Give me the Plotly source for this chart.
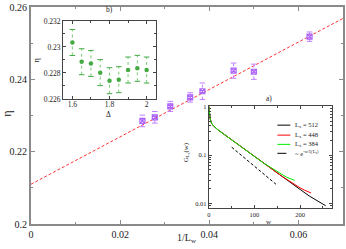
import plotly.graph_objects as go

# ---------------- data ----------------
# main panel: eta vs 1/L_w
inv_L = [1/40, 1/36, 1/32, 1/28, 1/26, 1/22, 1/20, 1/16]
eta = [0.2285, 0.2295, 0.2325, 0.2350, 0.2367, 0.2424, 0.2421, 0.2518]
eta_err = [0.0016, 0.0016, 0.0014, 0.0013, 0.0023, 0.0021, 0.0021, 0.0013]
fit_intercept = 0.2110
fit_slope = 0.655
fit_x = [0.0, 0.07]

# inset b: eta vs Delta
delta = [1.6, 1.65, 1.7, 1.75, 1.8, 1.85, 1.9, 1.95, 2.0]
eta_b = [0.23034, 0.22886, 0.22873, 0.22802, 0.22740, 0.22748, 0.22822, 0.22835, 0.22822]
eta_b_err = [0.0010, 0.0010, 0.0010, 0.0010, 0.0010, 0.0010, 0.0010, 0.0010, 0.0010]

# inset a: G_L(w)
w_512 = [0, 1, 3, 6, 10, 20, 40, 60, 80, 100, 120, 140, 160, 180, 200, 220, 240, 250, 256]
G_512 = [1.0, 0.75, 0.55, 0.45, 0.40, 0.33, 0.24, 0.175, 0.128, 0.093, 0.068, 0.049, 0.036,
         0.0265, 0.0195, 0.0143, 0.0108, 0.0096, 0.0090]
w_448 = [0, 1, 3, 6, 10, 20, 40, 60, 80, 100, 120, 140, 160, 170, 180, 190, 200, 210, 220, 224]
G_448 = [1.0, 0.75, 0.55, 0.45, 0.40, 0.33, 0.24, 0.175, 0.128, 0.093, 0.068, 0.049, 0.0365,
         0.0318, 0.0275, 0.0237, 0.021, 0.0188, 0.0170, 0.0165]
w_384 = [0, 1, 3, 6, 10, 20, 40, 60, 80, 100, 120, 130, 140, 150, 160, 170, 180, 188]
G_384 = [1.0, 0.75, 0.55, 0.45, 0.40, 0.33, 0.24, 0.175, 0.128, 0.093, 0.068, 0.060, 0.053,
         0.046, 0.040, 0.035, 0.032, 0.030]
w_exp = [50, 147]
G_exp = [0.145, 0.025]

legend_labels = ["L<sub>x</sub> = 512", "L<sub>x</sub> = 448", "L<sub>x</sub> = 384",
                 "~ e<sup>-w/ξ(L<sub>x</sub>)</sup>"]

# ---------------- layout helpers ----------------
W, H = 346, 249
L, R, T, B = 31, 1, 6, 25
PW, PH = W - L - R, H - T - B


def px(x):
    return (x - L) / PW


def py(y):
    return (H - B - y) / PH


FONT = "Liberation Serif"


def err_segments(xs, ys, es):
    X, Y = [], []
    for x, y, e in zip(xs, ys, es):
        X += [x, x, None]
        Y += [y - e, y + e, None]
    return X, Y


def caps(xs, ys, es):
    X, Y = [], []
    for x, y, e in zip(xs, ys, es):
        X += [x, x]
        Y += [y - e, y + e]
    return X, Y


fig = go.Figure()

# ---- main panel ----
fx = fit_x
fy = [fit_intercept + fit_slope * v for v in fit_x]
fig.add_trace(go.Scatter(x=fx, y=fy, mode="lines",
                         line=dict(color="#ff3333", width=1, dash="3px,2px"),
                         xaxis="x", yaxis="y", showlegend=False))
ex, ey = err_segments(inv_L, eta, eta_err)
fig.add_trace(go.Scatter(x=ex, y=ey, mode="lines",
                         line=dict(color="#c080ff", width=1, dash="dot"),
                         xaxis="x", yaxis="y", showlegend=False))
cx, cy = caps(inv_L, eta, eta_err)
fig.add_trace(go.Scatter(x=cx, y=cy, mode="markers",
                         marker=dict(symbol="line-ew", size=4,
                                     line=dict(color="#c080ff", width=1)),
                         xaxis="x", yaxis="y", showlegend=False))
fig.add_trace(go.Scatter(x=inv_L, y=eta, mode="markers",
                         marker=dict(symbol="square-x-open", size=5,
                                     line=dict(color="#8a1fe0", width=1.2)),
                         xaxis="x", yaxis="y", showlegend=False))

# ---- inset b ----
bx, by = err_segments(delta, eta_b, eta_b_err)
fig.add_trace(go.Scatter(x=bx, y=by, mode="lines",
                         line=dict(color="#77cc77", width=1, dash="dot"),
                         xaxis="x2", yaxis="y2", showlegend=False))
bcx, bcy = caps(delta, eta_b, eta_b_err)
fig.add_trace(go.Scatter(x=bcx, y=bcy, mode="markers",
                         marker=dict(symbol="line-ew", size=4,
                                     line=dict(color="#44aa44", width=1)),
                         xaxis="x2", yaxis="y2", showlegend=False))
fig.add_trace(go.Scatter(x=delta, y=eta_b, mode="markers",
                         marker=dict(symbol="circle", size=4.5, color="#44aa44"),
                         xaxis="x2", yaxis="y2", showlegend=False))

# ---- inset a ----
fig.add_trace(go.Scatter(x=w_512, y=G_512, mode="lines",
                         line=dict(color="#000000", width=1),
                         xaxis="x3", yaxis="y3", showlegend=False))
fig.add_trace(go.Scatter(x=w_448, y=G_448, mode="lines",
                         line=dict(color="#ff0000", width=1),
                         xaxis="x3", yaxis="y3", showlegend=False))
fig.add_trace(go.Scatter(x=w_384, y=G_384, mode="lines",
                         line=dict(color="#00ee00", width=1),
                         xaxis="x3", yaxis="y3", showlegend=False))
fig.add_trace(go.Scatter(x=w_exp, y=G_exp, mode="lines",
                         line=dict(color="#000000", width=1, dash="3px,2px"),
                         xaxis="x3", yaxis="y3", showlegend=False))

main_ax = dict(showline=True, linecolor="#8a8a8a", linewidth=2, mirror="ticks",
               ticks="inside", ticklen=4, tickcolor="#8a8a8a", tickwidth=1,
               showgrid=False, zeroline=False,
               tickfont=dict(family=FONT, size=10, color="#222"))
inset_ax = dict(showline=True, linecolor="#444", linewidth=1, mirror="ticks",
                ticks="inside", ticklen=3, tickcolor="#444", tickwidth=1,
                showgrid=False, zeroline=False)

fig.update_layout(
    width=W, height=H,
    margin=dict(l=L, r=R, t=T, b=B),
    paper_bgcolor="white", plot_bgcolor="white",
    hovermode=False,
    xaxis=dict(**main_ax, range=[0, 0.07], dtick=0.02, tick0=0,
               minor=dict(ticks="inside", dtick=0.01, ticklen=2, tickcolor="#8a8a8a")),
    yaxis=dict(**main_ax, range=[0.2, 0.26], dtick=0.02, tick0=0.2,
               minor=dict(ticks="inside", dtick=0.01, ticklen=2, tickcolor="#8a8a8a")),
    xaxis2=dict(**inset_ax, domain=[px(63.3), px(156.7)], anchor="y2",
                range=[1.55, 2.05], dtick=0.2, tick0=1.6, ticklabelstandoff=-2,
                minor=dict(ticks="inside", dtick=0.1, ticklen=2, tickcolor="#444"),
                tickfont=dict(family=FONT, size=7.5, color="#222")),
    yaxis2=dict(**inset_ax, domain=[py(98.3), py(20)], anchor="x2",
                range=[0.226, 0.232],
                tickvals=[0.226, 0.228, 0.23, 0.232],
                ticktext=["0.226", "0.228", "0.23", "0.232"],
                minor=dict(ticks="inside", dtick=0.001, ticklen=2, tickcolor="#444"),
                tickfont=dict(family=FONT, size=7.5, color="#222")),
    xaxis3=dict(**inset_ax, domain=[px(210), px(334)], anchor="y3",
                range=[0, 270], dtick=100, tick0=0,
                minor=dict(ticks="inside", dtick=50, ticklen=2, tickcolor="#444"),
                tickfont=dict(family=FONT, size=6.5, color="#222")),
    yaxis3=dict(**inset_ax, domain=[py(208.3), py(105.5)], anchor="x3",
                type="log", range=[-2.1, 0.01],
                tickvals=[0.01, 0.1, 1], ticktext=["0.01", "0.1", "1"],
                minor=dict(ticks="inside", ticklen=2, tickcolor="#444", dtick="D1"),
                tickfont=dict(family=FONT, size=6.5, color="#222")),
)

ann = []


def text(x, y, s, size, angle=0):
    ann.append(dict(x=px(x), y=py(y), xref="paper", yref="paper", text=s,
                    showarrow=False, textangle=angle,
                    font=dict(family=FONT, size=size, color="#222"),
                    xanchor="center", yanchor="middle"))


text(6, 113, "η", 12, -90)
text(188, 239, "1/L<sub>w</sub>", 10)
text(36, 59, "η", 9, -90)
text(109, 114, "Δ", 7.5)
text(110, 9, "b)", 7.5)
text(271, 98, "a)", 7.5)
text(271, 222, "w", 7)
text(187, 152, "G<sub>L<sub>x</sub></sub>(w)", 7, -90)

# manual legend for inset a
leg_rows = [124.7, 134.7, 144, 153]
leg_styles = [("#000000", "solid"), ("#ff0000", "solid"), ("#00ee00", "solid"),
              ("#000000", "dash")]
shapes = []
for yy, (col, dsh), lab in zip(leg_rows, leg_styles, legend_labels):
    shapes.append(dict(type="line", xref="paper", yref="paper",
                       x0=px(279), x1=px(292), y0=py(yy), y1=py(yy),
                       line=dict(color=col, width=1, dash=dsh)))
    ann.append(dict(x=px(295), y=py(yy), xref="paper", yref="paper", text=lab,
                    showarrow=False, xanchor="left", yanchor="middle",
                    font=dict(family=FONT, size=6.5, color="#222")))

fig.update_layout(annotations=ann, shapes=shapes)

fig.write_html("out.html",
               config={"displayModeBar": False, "staticPlot": True},
               post_script="document.body.style.margin='0';document.body.style.padding='0';")
